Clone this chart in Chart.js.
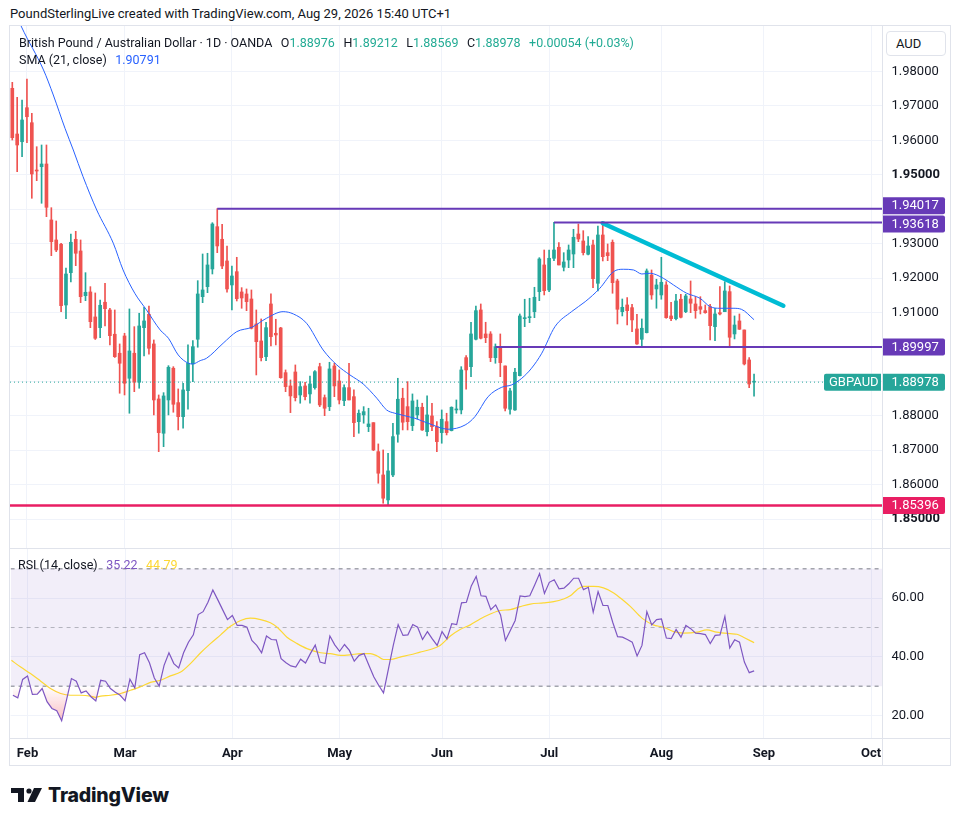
<!DOCTYPE html>
<html lang="en">
<head>
<meta charset="utf-8">
<title>GBPAUD 1D</title>
<script src="https://cdn.jsdelivr.net/npm/chart.js@4.4.1/dist/chart.umd.min.js"></script>
<style>
  html, body { margin: 0; padding: 0; background: #ffffff; }
  body { width: 960px; height: 826px; position: relative; overflow: hidden;
         font-family: Roboto, "Liberation Sans", sans-serif; color: #131722; }
  .abs { position: absolute; }
  #credit { left: 10px; top: 6px; font-size: 13px; line-height: 16px; white-space: nowrap; }
  #frame { left: 9px; top: 25px; width: 942px; height: 741px; box-sizing: border-box; border: 1px solid #e0e3eb; }
  #priceCanvas { left: 10px; top: 26px; width: 940px; height: 522px; }
  #rsiCanvas { left: 10px; top: 548px; width: 940px; height: 217px; }
  .hline { height: 1px; background: #e0e3eb; }
  .vline { width: 1px; background: #e0e3eb; }
  .legend { font-size: 12.5px; line-height: 17px; white-space: nowrap; }
  .legend .k { margin-left: 8.5px; }
  .teal { color: #22ab94; }
  .blue { color: #2962ff; }
  .purple { color: #7e57c2; }
  .yellow { color: #fdd835; }
  #aud { left: 886px; top: 31px; width: 60px; height: 25px; box-sizing: border-box;
         border: 1px solid #e0e3eb; border-radius: 4px; background: #fff;
         font-size: 13px; line-height: 23px; padding-left: 9px; }
  #brand { left: 11px; top: 784px; height: 22px; display: flex; align-items: center; }
  #brand span { font-family: Inter, Roboto, sans-serif; font-weight: 800; font-size: 19.5px; letter-spacing: -0.2px; margin-left: 6px; color: #131722; }
</style>
</head>
<body>
<div id="credit" class="abs">PoundSterlingLive created with TradingView.com, Aug 29, 2026 15:40 UTC+1</div>
<canvas id="priceCanvas" class="abs" width="940" height="522"></canvas>
<canvas id="rsiCanvas" class="abs" width="940" height="217"></canvas>
<div id="frame" class="abs"></div>
<div class="abs hline" style="left:10px; top:548px; width:940px;"></div>
<div class="abs hline" style="left:10px; top:738px; width:940px;"></div>
<div class="abs vline" style="left:882px; top:26px; height:739px;"></div>
<div id="aud" class="abs">AUD</div>

<div class="abs legend" style="left:19px; top:34px;">
  British Pound / Australian Dollar · 1D · OANDA<span class="k">O</span><span class="teal">1.88976</span><span class="k">H</span><span class="teal">1.89212</span><span class="k">L</span><span class="teal">1.88569</span><span class="k">C</span><span class="teal">1.88978</span><span class="k teal">+0.00054 (+0.03%)</span>
</div>
<div class="abs legend" style="left:19px; top:51px;">SMA (21, close)<span class="k blue">1.90791</span></div>
<div class="abs legend" style="left:18px; top:556px;">RSI (14, close)<span class="k purple">35.22</span><span class="k yellow">44.79</span></div>

<div id="brand" class="abs">
  <svg width="31" height="14" viewBox="0 0 31 14">
    <path d="M0 0 H13 V14 H7 V5 H0 Z" fill="#131722"/>
    <circle cx="18" cy="3" r="2.6" fill="#131722"/>
    <path d="M23 0 H31 L24 14 H16.5 Z" fill="#131722"/>
  </svg>
  <span>TradingView</span>
</div>

<script>
// Daily GBP/AUD candles, 28 Jan - 28 Aug 2026 (trading days only)
const open = [
  1.97512, 1.96185, 1.95961, 1.96949, 1.96513, 1.95119, 1.95235, 1.95314, 1.93688, 1.93107,
  1.92982, 1.91219, 1.92157, 1.93127, 1.92787, 1.91489, 1.91597, 1.90871, 1.90560, 1.91298,
  1.91074, 1.90369, 1.89817, 1.90319, 1.89090, 1.89817, 1.88974, 1.90560, 1.90949, 1.90087,
  1.88489, 1.87493, 1.88460, 1.89381, 1.88382, 1.87975, 1.88730, 1.89506, 1.90223, 1.91460,
  1.91751, 1.92265, 1.93493, 1.93127, 1.92497, 1.91800, 1.92186, 1.91597, 1.91539, 1.91393,
  1.90667, 1.90174, 1.89718, 1.91248, 1.90397, 1.90551, 1.89253, 1.88867, 1.89273, 1.88605,
  1.88867, 1.88635, 1.88818, 1.89427, 1.88527, 1.88266, 1.89448, 1.89012, 1.88440, 1.88818,
  1.88556, 1.87830, 1.88025, 1.87685, 1.87801, 1.86959, 1.86282, 1.85556, 1.86282, 1.87464,
  1.88510, 1.88266, 1.87714, 1.88025, 1.88248, 1.87540, 1.87996, 1.87685, 1.87511, 1.87830,
  1.87569, 1.88170, 1.88170, 1.89689, 1.89427, 1.90223, 1.91074, 1.90377, 1.90377, 1.89689,
  1.90008, 1.89448, 1.88190, 1.88170, 1.89166, 1.90821, 1.90850, 1.91025, 1.91606, 1.92381,
  1.91655, 1.92575, 1.92895, 1.92314, 1.92526, 1.92700, 1.93281, 1.93078, 1.92692, 1.92962,
  1.91849, 1.93252, 1.92738, 1.93040, 1.91916, 1.91025, 1.91219, 1.91141, 1.90522, 1.90223,
  1.90415, 1.92090, 1.91684, 1.91510, 1.91800, 1.90900, 1.90821, 1.91385, 1.91025, 1.91393,
  1.91248, 1.91170, 1.91054, 1.91170, 1.90589, 1.90995, 1.91025, 1.91606, 1.90377, 1.90755,
  1.90493, 1.89622, 1.88976
];
const high = [
  1.97686, 1.97251, 1.97172, 1.97782, 1.96786, 1.95816, 1.95866, 1.95866, 1.94045, 1.93659,
  1.93011, 1.92294, 1.93281, 1.93359, 1.93107, 1.92157, 1.91751, 1.91568, 1.91364, 1.91849,
  1.91120, 1.91074, 1.90087, 1.90397, 1.91103, 1.90589, 1.90978, 1.91152, 1.91190, 1.90203,
  1.88605, 1.88672, 1.89456, 1.89427, 1.88780, 1.88945, 1.90058, 1.90182, 1.91925, 1.92700,
  1.92721, 1.93609, 1.94017, 1.93563, 1.92933, 1.92352, 1.92604, 1.91722, 1.91684, 1.91655,
  1.91074, 1.90813, 1.90717, 1.91539, 1.90804, 1.90570, 1.89332, 1.89041, 1.89477, 1.88992,
  1.88974, 1.89157, 1.89311, 1.89526, 1.88605, 1.89555, 1.89526, 1.89332, 1.88896, 1.89526,
  1.88751, 1.88170, 1.88266, 1.88219, 1.87801, 1.87183, 1.87008, 1.86913, 1.87784, 1.89090,
  1.88800, 1.88992, 1.88635, 1.88460, 1.88365, 1.88577, 1.88365, 1.87830, 1.88170, 1.88074,
  1.88260, 1.88460, 1.89427, 1.89747, 1.90717, 1.91190, 1.91248, 1.90717, 1.90444, 1.90087,
  1.90377, 1.89448, 1.88800, 1.89381, 1.90958, 1.91385, 1.91414, 1.91733, 1.92593, 1.92816,
  1.92816, 1.93618, 1.93028, 1.92738, 1.92962, 1.93417, 1.93571, 1.93377, 1.93203, 1.93107,
  1.93513, 1.93592, 1.92991, 1.93107, 1.91966, 1.91393, 1.91431, 1.91239, 1.90949, 1.90813,
  1.92265, 1.92236, 1.91966, 1.92604, 1.91896, 1.91298, 1.91530, 1.91530, 1.91530, 1.91916,
  1.91460, 1.91460, 1.91219, 1.91239, 1.91123, 1.91751, 1.91896, 1.91771, 1.90900, 1.90958,
  1.90493, 1.89689, 1.89212
];
const low = [
  1.96011, 1.95090, 1.95526, 1.95932, 1.94318, 1.94829, 1.94173, 1.93783, 1.92651, 1.92767,
  1.91025, 1.90821, 1.91887, 1.92360, 1.91286, 1.91344, 1.90560, 1.90217, 1.90270, 1.90609,
  1.90058, 1.89695, 1.88655, 1.88605, 1.88074, 1.88701, 1.88800, 1.89738, 1.89787, 1.88025,
  1.86959, 1.87104, 1.88025, 1.88103, 1.87589, 1.87639, 1.88190, 1.88992, 1.89991, 1.91286,
  1.91576, 1.92119, 1.92738, 1.92273, 1.91588, 1.91074, 1.91335, 1.91123, 1.91054, 1.90522,
  1.89186, 1.89593, 1.89602, 1.90028, 1.90058, 1.89090, 1.88701, 1.88092, 1.88431, 1.88365,
  1.88460, 1.88365, 1.88771, 1.88266, 1.88004, 1.88150, 1.88556, 1.88344, 1.88295, 1.88460,
  1.87395, 1.87493, 1.87784, 1.87540, 1.86990, 1.86041, 1.85460, 1.85396, 1.86233, 1.87232,
  1.87589, 1.87589, 1.87569, 1.87909, 1.87575, 1.87415, 1.87569, 1.86959, 1.87203, 1.87444,
  1.87560, 1.88074, 1.88054, 1.88771, 1.89137, 1.90203, 1.90232, 1.90124, 1.89573, 1.89526,
  1.89137, 1.88141, 1.88045, 1.88155, 1.89157, 1.90589, 1.90705, 1.90850, 1.91344, 1.91510,
  1.91606, 1.92506, 1.92381, 1.92207, 1.92302, 1.92302, 1.93057, 1.92671, 1.92671, 1.91722,
  1.91626, 1.92497, 1.92506, 1.91559, 1.90667, 1.90900, 1.90638, 1.90444, 1.90072, 1.90028,
  1.90406, 1.91385, 1.91123, 1.91385, 1.90833, 1.90763, 1.90784, 1.90842, 1.90995, 1.90995,
  1.90833, 1.90958, 1.90978, 1.90203, 1.90182, 1.90929, 1.91025, 1.90008, 1.90232, 1.90508,
  1.89477, 1.88818, 1.88569
];
const close = [
  1.96078, 1.95866, 1.96592, 1.96687, 1.95023, 1.95110, 1.95314, 1.94056, 1.93057, 1.92816,
  1.91199, 1.92119, 1.93040, 1.92721, 1.91460, 1.91588, 1.90734, 1.90252, 1.91210, 1.91112,
  1.90328, 1.89718, 1.89526, 1.88945, 1.89883, 1.88974, 1.90609, 1.90755, 1.89962, 1.88460,
  1.87511, 1.88577, 1.89410, 1.88335, 1.87975, 1.88751, 1.89526, 1.90008, 1.91539, 1.91655,
  1.92381, 1.93571, 1.92933, 1.92352, 1.91684, 1.92061, 1.91402, 1.91422, 1.91315, 1.90543,
  1.90153, 1.89689, 1.90560, 1.90299, 1.90348, 1.89108, 1.88847, 1.88577, 1.88527, 1.88847,
  1.88556, 1.88925, 1.89282, 1.88315, 1.88219, 1.89361, 1.88867, 1.88460, 1.88818, 1.88460,
  1.87801, 1.88074, 1.88121, 1.87763, 1.87008, 1.86332, 1.85606, 1.86399, 1.87395, 1.88481,
  1.87813, 1.87830, 1.88431, 1.88248, 1.87589, 1.88025, 1.87685, 1.87249, 1.87900, 1.87511,
  1.88248, 1.88199, 1.89332, 1.89332, 1.90377, 1.91054, 1.90252, 1.90269, 1.89689, 1.90008,
  1.89544, 1.88219, 1.88722, 1.89265, 1.90900, 1.90850, 1.90879, 1.91443, 1.92555, 1.91634,
  1.92575, 1.92816, 1.92381, 1.92468, 1.92816, 1.93185, 1.93136, 1.92738, 1.92933, 1.91983,
  1.93252, 1.92622, 1.92651, 1.91867, 1.91094, 1.91152, 1.91054, 1.90784, 1.90087, 1.90543,
  1.92207, 1.91510, 1.91800, 1.91878, 1.90850, 1.90821, 1.91335, 1.90862, 1.91480, 1.91269,
  1.91054, 1.91094, 1.90995, 1.90618, 1.90958, 1.90958, 1.91626, 1.90281, 1.90638, 1.90514,
  1.89506, 1.88924, 1.88978
];

// SMA(21): candle index -> value
const smaIdx = [0, 1.9, 6.4, 8.4, 10.8, 12.5, 14.5, 17.3, 20.7, 22.7, 25.1, 27.5, 30.3, 32.0, 34.0, 36.1, 37.0, 38.5, 39.8, 43.2,
  46.0, 49.1, 52.1, 55.5, 57.6, 60.3, 63.7, 66.5, 69.2, 71.9, 74.7, 76.7, 78.4, 82.5, 85.2, 89.3, 92.8, 94.8, 97.5, 100.3,
  102.3, 104.4, 106.4, 108.5, 111.2, 114.6, 117.4, 120.4, 123.2, 125.2, 127.3, 129.0, 130.7, 133.4, 135.5, 138.2, 140.9, 143.0, 145.0, 147.7,
  149.4, 152];
const smaVal = [1.9993, 1.99292, 1.98044, 1.97318, 1.96350, 1.95720, 1.94945, 1.93978, 1.93011, 1.92236, 1.91559, 1.91074, 1.90493, 1.90252, 1.89767, 1.89526, 1.89507, 1.89602, 1.89671, 1.90107,
  1.90444, 1.90572, 1.90833, 1.91025, 1.90958, 1.90688, 1.89912, 1.89477, 1.89186, 1.88925, 1.88510, 1.88170, 1.88074, 1.87929, 1.87784, 1.87610, 1.87734, 1.87975, 1.88556, 1.88829,
  1.88896, 1.89090, 1.89381, 1.89817, 1.90589, 1.91025, 1.91315, 1.91704, 1.92186, 1.92256, 1.92236, 1.92119, 1.92140, 1.91995, 1.91800, 1.91559, 1.91414, 1.91170, 1.91123, 1.91123,
  1.91094, 1.90791];

// RSI(14) per candle
const rsi = [
  26.9, 26.0, 32.3, 33.5, 27.2, 27.3, 29.2, 24.7, 22.4, 21.6,
  18.2, 25.3, 32.6, 31.7, 27.7, 28.4, 26.4, 25.0, 32.0, 31.7,
  29.2, 27.9, 26.9, 25.0, 32.4, 29.4, 40.7, 41.4, 38.0, 32.8,
  30.0, 37.1, 41.4, 37.7, 36.2, 41.4, 45.0, 47.5, 54.4, 55.4,
  58.6, 62.8, 59.5, 56.1, 52.7, 54.1, 50.7, 50.7, 50.1, 45.6,
  43.9, 41.4, 47.1, 45.9, 45.8, 39.4, 38.0, 36.9, 36.5, 39.2,
  37.9, 41.1, 44.0, 38.2, 37.7, 47.1, 44.1, 41.9, 44.2, 42.2,
  38.5, 40.5, 41.1, 37.1, 33.2, 30.3, 27.7, 35.8, 43.9, 51.0,
  47.3, 47.5, 51.0, 50.1, 45.9, 48.6, 46.1, 43.9, 48.6, 46.1,
  51.3, 51.0, 58.4, 58.6, 64.2, 67.4, 60.8, 60.6, 56.1, 57.7,
  54.3, 45.6, 49.0, 52.4, 60.8, 60.5, 60.8, 64.5, 68.4, 61.6,
  65.4, 66.3, 63.2, 63.4, 64.9, 66.8, 66.8, 62.9, 63.7, 55.2,
  62.2, 57.5, 57.5, 51.8, 46.9, 46.7, 45.9, 45.0, 40.3, 43.9,
  55.4, 50.9, 52.7, 52.9, 46.4, 46.2, 49.3, 46.7, 50.7, 49.6,
  48.1, 47.9, 47.6, 44.5, 47.3, 47.5, 53.8, 43.0, 45.8, 45.0,
  38.2, 34.6, 35.22
];

// RSI moving average
const rsiMaIdx = [-0.3, 1.6, 3.6, 5.7, 7.7, 9.8, 11.8, 13.9, 15.9, 16.9, 18.0, 20.0, 22.1, 24.1, 26.2, 28.2, 30.3, 32.3, 34.4, 36.4,
  38.5, 40.5, 42.6, 44.6, 46.7, 48.7, 50.8, 52.8, 54.2, 56.2, 58.3, 60.3, 63.1, 65.1, 67.2, 69.2, 71.3, 73.3, 74.7, 76.0,
  77.4, 79.4, 81.5, 83.5, 85.6, 87.6, 89.7, 91.7, 93.8, 95.8, 97.9, 99.9, 102.0, 104.0, 106.1, 108.8, 110.9, 112.9, 114.3, 115.7,
  117.0, 119.1, 121.1, 123.2, 125.2, 126.6, 129.0, 131.3, 133.4, 135.5, 137.5, 140.3, 142.3, 144.3, 147.1, 148.5, 149.8, 152];
const rsiMaVal = [38.8, 36.5, 34.3, 31.7, 29.2, 27.5, 26.9, 26.9, 26.6, 26.2, 26.6, 26.9, 27.5, 28.6, 29.8, 31.3, 32.0, 33.5, 34.8, 37.7,
  41.4, 44.5, 47.5, 50.4, 52.4, 53.2, 52.7, 51.6, 50.1, 46.7, 44.5, 42.8, 41.4, 41.1, 40.5, 40.7, 41.1, 41.1, 40.3, 39.1,
  39.1, 39.9, 40.7, 41.6, 42.5, 43.9, 47.1, 49.3, 50.9, 52.9, 54.6, 55.8, 56.1, 57.1, 58.0, 58.4, 58.8, 59.7, 60.8, 62.9,
  64.0, 64.0, 63.5, 61.8, 59.2, 57.2, 53.2, 50.9, 50.1, 48.6, 48.1, 48.4, 49.2, 48.4, 47.9, 47.7, 46.7, 44.79];

// drawn levels: value and the candle where each starts
const levelValues = [1.94017, 1.93618, 1.89997, 1.85396];
const levelStart = [42, 111, 99, -0.47];
const trendIdx = [121, 158];
const trendVal = [1.93592, 1.91198];

// axes
const monthIdx = [3, 23, 45, 67, 88, 110, 133, 154, 176];
const monthNames = ["Feb", "Mar", "Apr", "May", "Jun", "Jul", "Aug", "Sep", "Oct"];
const priceTicks = [1.85, 1.86, 1.87, 1.88, 1.89, 1.90, 1.91, 1.92, 1.93, 1.94, 1.95, 1.96, 1.97, 1.98];
const rsiTicks = [20, 40, 60];

const FONT = "Roboto, 'Liberation Sans', sans-serif";
Chart.defaults.font.family = FONT;
Chart.defaults.font.size = 13;
Chart.defaults.color = "#131722";

const X_MIN = -0.471, X_MAX = 178.22;
const UP = "#26a69a", DOWN = "#ef5350", PURPLE = "#673ab7", PINK = "#e91e63";
const GRID = "#f0f3fa";

const candleColors = close.map((c, i) => (c >= open[i] ? UP : DOWN));
const lastClose = close[close.length - 1];

// no extra room for edge labels: panes must fill their canvas exactly
function noPadY(s) { s.width = 68; s.paddingTop = 0; s.paddingBottom = 0; }
function noPadX(s) { s.paddingLeft = 0; s.paddingRight = 0; }

function flatLine(v, from, color, width, dash) {
  return {
    type: "line",
    data: [{ x: from, y: v }, { x: X_MAX, y: v }],
    borderColor: color,
    borderWidth: width,
    borderDash: dash || [],
    pointRadius: 0,
    fill: false,
    order: 0
  };
}

// price tags on the right axis
const tagPlugin = {
  id: "priceTags",
  afterDraw(chart) {
    const ctx = chart.ctx;
    const ys = chart.scales.y;
    const tags = [
      { v: levelValues[0], color: PURPLE, shift: -3 },
      { v: levelValues[1], color: PURPLE, shift: 1.5 },
      { v: levelValues[2], color: PURPLE, shift: 0 },
      { v: lastClose, color: UP, shift: 0 },
      { v: levelValues[3], color: PINK, shift: 0 }
    ];
    ctx.save();
    ctx.font = "13px " + FONT;
    ctx.textBaseline = "middle";
    tags.forEach(t => {
      const py = ys.getPixelForValue(t.v) + t.shift;
      ctx.fillStyle = t.color;
      ctx.beginPath();
      ctx.roundRect(ys.left + 1, py - 8.5, 62, 17, [0, 2, 2, 0]);
      ctx.fill();
      ctx.fillStyle = "#ffffff";
      ctx.textAlign = "left";
      ctx.fillText(t.v.toFixed(5), ys.left + 9.5, py + 0.5);
    });
    // symbol label left of the last price
    const py = ys.getPixelForValue(lastClose);
    ctx.fillStyle = UP;
    ctx.beginPath();
    ctx.roundRect(ys.left - 58, py - 8.5, 57, 17, [2, 0, 0, 2]);
    ctx.fill();
    ctx.fillStyle = "#ffffff";
    ctx.textAlign = "left";
    ctx.fillText("GBPAUD", ys.left - 53, py + 0.5);
    ctx.restore();
  }
};

new Chart(document.getElementById("priceCanvas"), {
  type: "bar",
  data: {
    datasets: [
      flatLine(lastClose, X_MIN, UP, 1, [1, 3]),
      {
        type: "bar",
        data: close.map((c, i) => ({ x: i, y: [low[i], high[i]] })),
        backgroundColor: candleColors,
        barThickness: 1,
        grouped: false,
        order: 3
      },
      {
        type: "bar",
        data: close.map((c, i) => ({ x: i, y: [open[i], c] })),
        backgroundColor: candleColors,
        barThickness: 3,
        minBarLength: 1,
        grouped: false,
        order: 2
      },
      {
        type: "line",
        data: smaIdx.map((x, i) => ({ x: x, y: smaVal[i] })),
        borderColor: "#2962ff",
        borderWidth: 1,
        pointRadius: 0,
        cubicInterpolationMode: "monotone",
        fill: false,
        order: 1
      },
      flatLine(levelValues[0], levelStart[0], PURPLE, 2),
      flatLine(levelValues[1], levelStart[1], PURPLE, 2),
      flatLine(levelValues[2], levelStart[2], PURPLE, 2),
      flatLine(levelValues[3], levelStart[3], PINK, 2.5),
      {
        type: "line",
        data: trendIdx.map((x, i) => ({ x: x, y: trendVal[i] })),
        borderColor: "#00bcd4",
        borderWidth: 4.5,
        borderCapStyle: "round",
        pointRadius: 0,
        fill: false,
        order: 0
      }
    ]
  },
  options: {
    responsive: false,
    animation: false,
    events: [],
    layout: { padding: 0 },
    plugins: { legend: { display: false }, tooltip: { enabled: false } },
    scales: {
      x: {
        type: "linear",
        min: X_MIN,
        max: X_MAX,
        offset: false,
        afterBuildTicks: s => { s.ticks = monthIdx.map(v => ({ value: v })); },
        afterFit: s => { noPadX(s); s.height = 0; },
        ticks: { display: false },
        grid: { color: GRID, drawTicks: false, offset: false },
        border: { display: false }
      },
      y: {
        type: "linear",
        position: "right",
        min: 1.8416,
        max: 1.99322,
        afterBuildTicks: s => { s.ticks = priceTicks.map(v => ({ value: v })); },
        afterFit: noPadY,
        ticks: {
          padding: 9.5,
          callback: v => ([1.89, 1.90, 1.94].some(h => Math.abs(h - v) < 1e-6) ? "" : v.toFixed(5)),
          font: c => ({ size: 13, weight: (c.tick && (Math.abs(c.tick.value - 1.95) < 1e-6 || Math.abs(c.tick.value - 1.85) < 1e-6)) ? "bold" : "normal" })
        },
        grid: { color: GRID, drawTicks: false },
        border: { display: false }
      }
    }
  },
  plugins: [tagPlugin]
});

const rsiChart = new Chart(document.getElementById("rsiCanvas"), {
  type: "line",
  data: {
    datasets: [
      Object.assign(flatLine(70, X_MIN, "#787b86", 1, [4, 4]), {
        fill: { target: { value: 30 } },
        backgroundColor: "rgba(126, 87, 194, 0.1)",
        order: 5
      }),
      Object.assign(flatLine(50, X_MIN, "rgba(120, 123, 134, 0.5)", 1, [4, 4]), { order: 4 }),
      Object.assign(flatLine(30, X_MIN, "#787b86", 1, [4, 4]), { order: 4 }),
      {
        data: rsi.map((v, i) => ({ x: i, y: v })),
        borderColor: "#7e57c2",
        borderWidth: 1.2,
        pointRadius: 0,
        tension: 0,
        fill: { target: { value: 30 }, above: "rgba(0,0,0,0)", below: "rgba(242, 54, 69, 0.2)" },
        order: 1
      },
      {
        data: rsiMaIdx.map((x, i) => ({ x: x, y: rsiMaVal[i] })),
        borderColor: "#fdd835",
        borderWidth: 1.2,
        pointRadius: 0,
        cubicInterpolationMode: "monotone",
        fill: false,
        order: 2
      }
    ]
  },
  options: {
    responsive: false,
    animation: false,
    events: [],
    layout: { padding: 0 },
    plugins: { legend: { display: false }, tooltip: { enabled: false } },
    scales: {
      x: {
        type: "linear",
        min: X_MIN,
        max: X_MAX,
        afterBuildTicks: s => { s.ticks = monthIdx.map(v => ({ value: v })); },
        afterFit: s => { noPadX(s); s.height = 27; },
        ticks: {
          autoSkip: false,
          maxRotation: 0,
          padding: 8,
          font: { size: 13, weight: "bold" },
          callback: v => monthNames[monthIdx.indexOf(v)]
        },
        grid: { color: GRID, drawTicks: false },
        border: { display: false }
      },
      y: {
        type: "linear",
        position: "right",
        min: 12.33,
        max: 76.9,
        afterBuildTicks: s => { s.ticks = rsiTicks.map(v => ({ value: v })); },
        afterFit: noPadY,
        ticks: { padding: 9.5, callback: v => v.toFixed(2) },
        grid: { color: GRID, drawTicks: false },
        border: { display: false }
      }
    }
  }
});

// oversold fill fades out towards the 30 line, as on TradingView
const ry = rsiChart.scales.y;
const fade = rsiChart.ctx.createLinearGradient(0, ry.getPixelForValue(30), 0, ry.getPixelForValue(15));
fade.addColorStop(0, "rgba(242, 54, 69, 0)");
fade.addColorStop(1, "rgba(242, 54, 69, 0.4)");
rsiChart.data.datasets[3].fill.below = fade;
rsiChart.update("none");
</script>
</body>
</html>
